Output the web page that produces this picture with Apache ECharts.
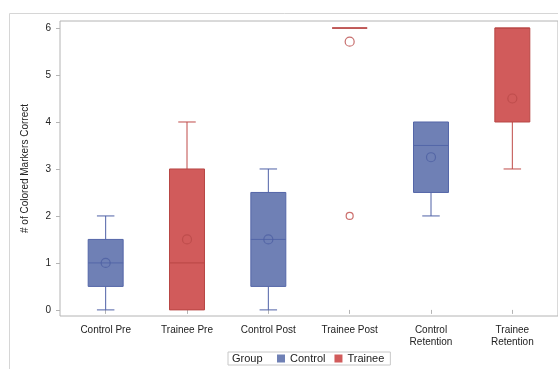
<!DOCTYPE html>
<html>
<head>
<meta charset="utf-8">
<script src="https://cdn.jsdelivr.net/npm/echarts@6/dist/echarts.min.js"></script>
<style>
  html, body { margin: 0; padding: 0; background: #fff; }
  #chart { width: 558px; height: 369px; }
</style>
</head>
<body>
<div id="chart"></div>
<script>
// Study phases along the x axis
const categories = ['Control Pre', 'Trainee Pre', 'Control Post', 'Trainee Post', 'Control\nRetention', 'Trainee\nRetention'];

// Box summaries: [category index, min, Q1, median, Q3, max]
const controlBoxes = [
  [0, 0, 0.5, 1, 1.5, 2],
  [2, 0, 0.5, 1.5, 2.5, 3],
  [4, 2, 2.5, 3.5, 4, 4]
];
const traineeBoxes = [
  [1, 0, 0, 1, 3, 4],
  [3, 6, 6, 6, 6, 6],
  [5, 3, 4, 6, 6, 6]
];

// Group means: [category index, mean]
const controlMeans = [[0, 1.0], [2, 1.5], [4, 3.25]];
const traineeMeans = [[1, 1.5], [3, 5.71], [5, 4.5]];

// Outlying observations: [category index, value]
const traineeOutliers = [[3, 2]];

// Y axis tick values
const yTicks = [0, 1, 2, 3, 4, 5, 6];

const palette = {
  Control: { fill: '#6f80b5', stroke: '#5466a8', line: '#4f61a6', mean: '#4d5fa3' },
  Trainee: { fill: '#d15b5b', stroke: '#b84644', line: '#bf4b48', mean: '#b94a48' }
};

function boxRenderer(name) {
  const c = palette[name];
  return function (params, api) {
    const x = api.value(0);
    const pMin = api.coord([x, api.value(1)]);
    const pQ1 = api.coord([x, api.value(2)]);
    const pMed = api.coord([x, api.value(3)]);
    const pQ3 = api.coord([x, api.value(4)]);
    const pMax = api.coord([x, api.value(5)]);
    const band = api.size([1, 0])[0];
    const bw = band * 0.43;
    const cw = bw / 2;
    const cx = pMin[0];
    const children = [];
    const lineStyle = { stroke: c.line, lineWidth: 1 };
    if (api.value(5) > api.value(4)) {
      children.push({ type: 'line', shape: { x1: cx, y1: pQ3[1], x2: cx, y2: pMax[1] }, style: lineStyle });
      children.push({ type: 'line', shape: { x1: cx - cw / 2, y1: pMax[1], x2: cx + cw / 2, y2: pMax[1] }, style: lineStyle });
    }
    if (api.value(1) < api.value(2)) {
      children.push({ type: 'line', shape: { x1: cx, y1: pQ1[1], x2: cx, y2: pMin[1] }, style: lineStyle });
      children.push({ type: 'line', shape: { x1: cx - cw / 2, y1: pMin[1], x2: cx + cw / 2, y2: pMin[1] }, style: lineStyle });
    }
    children.push({
      type: 'rect',
      shape: { x: cx - bw / 2, y: pQ3[1], width: bw, height: pQ1[1] - pQ3[1] },
      style: { fill: c.fill, stroke: c.stroke, lineWidth: 1 }
    });
    children.push({
      type: 'line',
      shape: { x1: cx - bw / 2, y1: pMed[1], x2: cx + bw / 2, y2: pMed[1] },
      style: { stroke: c.stroke, lineWidth: 1 }
    });
    return { type: 'group', children: children };
  };
}

// Hollow circle marker style
function ring(color) {
  return { color: 'rgba(0,0,0,0)', borderColor: color, borderWidth: 1.2 };
}

const chart = echarts.init(document.getElementById('chart'), null, { renderer: 'canvas' });
const font = 'Liberation Sans, Arial, sans-serif';

chart.setOption({
  animation: false,
  backgroundColor: '#fff',
  textStyle: { fontFamily: font },
  graphic: [
    {
      type: 'rect', silent: true, z: -10,
      shape: { x: 9.5, y: 13.5, width: 570, height: 380 },
      style: { fill: 'none', stroke: '#d6d6d6', lineWidth: 1 }
    },
    {
      type: 'text', left: 232, top: 353,
      style: { text: 'Group', fontSize: 11, fontFamily: font, fill: '#222' }
    }
  ],
  legend: {
    data: ['Control', 'Trainee'],
    left: 228, top: 352,
    padding: [1, 6, 1, 49],
    borderColor: '#c8c8c8', borderWidth: 1,
    itemWidth: 8, itemHeight: 8, itemGap: 9,
    icon: 'rect',
    textStyle: { fontSize: 11, color: '#222', fontFamily: font }
  },
  grid: [
    { left: 60, right: -6, top: 21, bottom: 53, show: true, borderColor: '#b4b4b4', borderWidth: 1, backgroundColor: 'transparent' },
    { left: 65, right: 5, top: 21, bottom: 53 }
  ],
  xAxis: [
    { gridIndex: 0, type: 'value', show: false, min: 0, max: 1 },
    {
      gridIndex: 1, type: 'category', data: categories, boundaryGap: true,
      axisLine: { show: false },
      axisTick: { show: true, alignWithLabel: true, length: 4, lineStyle: { color: '#b4b4b4' } },
      axisLabel: { fontSize: 10, color: '#222', margin: 8, lineHeight: 12, interval: 0, fontFamily: font }
    }
  ],
  yAxis: [
    { gridIndex: 0, type: 'value', show: false, min: 0, max: 1 },
    {
      gridIndex: 1, type: 'value', min: -0.13, max: 6.15, offset: 5,
      name: '# of Colored Markers Correct', nameLocation: 'middle', nameGap: 30,
      nameTextStyle: { fontSize: 10, color: '#222', fontFamily: font },
      axisLine: { show: false },
      splitLine: { show: false },
      axisTick: { show: true, length: 4, customValues: yTicks, lineStyle: { color: '#b4b4b4' } },
      axisLabel: { fontSize: 10, color: '#222', margin: 9, customValues: yTicks, fontFamily: font }
    }
  ],
  series: [
    {
      name: 'Control', type: 'custom', xAxisIndex: 1, yAxisIndex: 1,
      color: palette.Control.fill,
      encode: { x: 0, y: [1, 2, 3, 4, 5] },
      renderItem: boxRenderer('Control'), data: controlBoxes
    },
    {
      name: 'Trainee', type: 'custom', xAxisIndex: 1, yAxisIndex: 1,
      color: palette.Trainee.fill,
      encode: { x: 0, y: [1, 2, 3, 4, 5] },
      renderItem: boxRenderer('Trainee'), data: traineeBoxes
    },
    {
      name: 'Control Mean', type: 'scatter', xAxisIndex: 1, yAxisIndex: 1, z: 5,
      symbol: 'circle', symbolSize: 9,
      itemStyle: ring(palette.Control.mean),
      data: controlMeans
    },
    {
      name: 'Trainee Mean', type: 'scatter', xAxisIndex: 1, yAxisIndex: 1, z: 5,
      symbol: 'circle', symbolSize: 9,
      itemStyle: ring(palette.Trainee.mean),
      data: traineeMeans
    },
    {
      name: 'Trainee Outlier', type: 'scatter', xAxisIndex: 1, yAxisIndex: 1, z: 5,
      symbol: 'circle', symbolSize: 7,
      itemStyle: ring(palette.Trainee.line),
      data: traineeOutliers
    }
  ]
});
</script>
</body>
</html>
